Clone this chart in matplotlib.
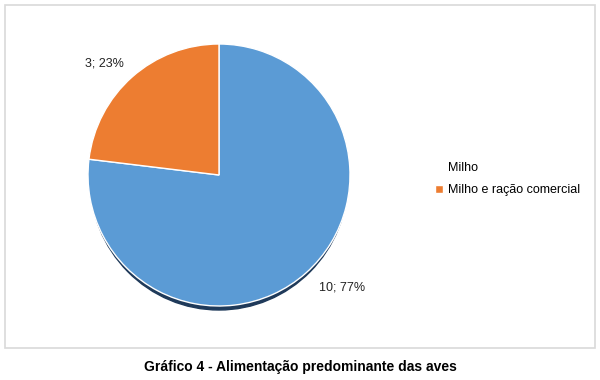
import matplotlib
matplotlib.use("Agg")
import numpy as np
import matplotlib.pyplot as plt
from matplotlib.patches import Rectangle, Ellipse

plt.rcParams['font.family'] = ['Liberation Sans', 'DejaVu Sans']

categorias = ["Milho", "Milho e ração comercial"]
valores = [10, 3]
cores = ["#5B9BD5", "#ED7D31"]

total = sum(valores)
rotulos = ["%d; %d%%" % (v, round(100.0 * v / total)) for v in valores]

fig = plt.figure(figsize=(6, 3.8), dpi=100)
ax = fig.add_axes([0, 0, 1, 1])

# chart border
fig.patches.append(Rectangle((5 / 600, 32 / 380), 590 / 600, 343 / 380,
                             transform=fig.transFigure, fill=False,
                             edgecolor="#d9d9d9", linewidth=1.2))

cx, cy, r = 219, 205, 131

# dark shadow under the pie
ax.add_patch(Ellipse((cx, cy - 4), 2 * r - 4, 2 * r, color="#1f3a5a", zorder=1))

wedges, texts = ax.pie(valores, colors=cores, startangle=90, counterclock=False,
                       center=(cx, cy), radius=r, labels=rotulos,
                       labeldistance=1.24, frame=True,
                       wedgeprops=dict(edgecolor="white", linewidth=1),
                       textprops=dict(fontsize=9, color="#222222"))
for w in wedges:
    w.set_zorder(2)

# place labels like the "best fit" of the original
ajuste = [(6, 1.27), (4, 1.22)]
for w, t, (da, dist) in zip(wedges, texts, ajuste):
    a = np.radians((w.theta1 + w.theta2) / 2 + da)
    t.set_position((cx + dist * r * np.cos(a), cy + dist * r * np.sin(a)))
    t.set_ha('center')
    t.set_va('center')

ax.set_xlim(0, 600)
ax.set_ylim(0, 380)
ax.axis('off')

leg = ax.legend(wedges, categorias, loc='center left',
                bbox_to_anchor=(424 / 600, 201 / 380), frameon=False,
                fontsize=9, handlelength=0.6, handleheight=0.6,
                handletextpad=0.45, labelspacing=0.85)
leg.legend_handles[0].set_visible(False)

fig.text(0.5, 13 / 380, "Gráfico 4 - Alimentação predominante das aves",
         ha='center', va='center', fontsize=10, fontweight='bold')

fig.savefig("out.png", dpi=100, facecolor="white")
